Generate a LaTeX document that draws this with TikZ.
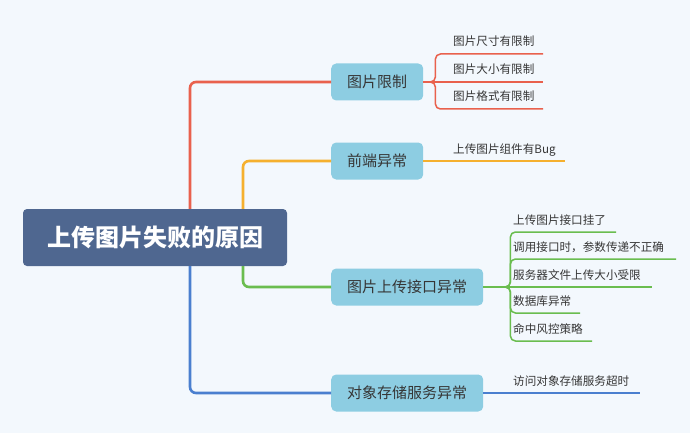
\documentclass[tikz,border=0pt]{standalone}
\usepackage{fontspec}
\usepackage{xcolor}
\usepackage{tikz}
\usetikzlibrary{positioning}
\newfontfamily\cjk{Noto Sans CJK SC}
\definecolor{PaperBlue}{HTML}{F3F8FD}
\definecolor{RootBlue}{HTML}{4F6790}
\definecolor{TopicBlue}{HTML}{8DCDE2}
\definecolor{InkGray}{HTML}{363636}
\definecolor{RedLine}{HTML}{E9614D}
\definecolor{OrangeLine}{HTML}{F5B02E}
\definecolor{GreenLine}{HTML}{6ABD4F}
\definecolor{BlueLine}{HTML}{4A7FCF}

\begin{document}
\begin{tikzpicture}[
  x=1pt, y=-1pt,
  root/.style={fill=RootBlue, rounded corners=4pt, text=white,
    font=\cjk\bfseries\fontsize{24}{24}\selectfont,
    minimum width=264pt, minimum height=57pt, inner sep=0pt},
  topic/.style={fill=TopicBlue, rounded corners=5pt, text=InkGray, anchor=west,
    font=\cjk\fontsize{15}{15}\selectfont, minimum height=37pt, inner xsep=16pt},
  leaf/.style={text=InkGray, anchor=base west, inner sep=0pt,
    font=\cjk\fontsize{11.6}{12}\selectfont},
  branch/.style={line width=2.6pt, rounded corners=6pt},
  twig/.style={line width=1.5pt, rounded corners=5pt}
]
  \fill[PaperBlue] (0,0) rectangle (690,433);
  \useasboundingbox (0,0) rectangle (690,433);

  % centre and main topics
  \node[root] (cause) at (155,237.5) {上传图片失败的原因};
  \node[topic] (limit) at (331,82) {图片限制};
  \node[topic] (front) at (331,161) {前端异常};
  \node[topic] (api) at (331,287) {图片上传接口异常};
  \node[topic] (storage) at (331,393) {对象存储服务异常};

  \draw[branch, RedLine] ([xshift=35pt]cause.north) |- (limit);
  \draw[branch, OrangeLine] ([xshift=88pt]cause.north) |- (front);
  \draw[branch, GreenLine] ([xshift=88pt]cause.south) |- (api);
  \draw[branch, BlueLine] ([xshift=35pt]cause.south) |- (storage);

  % 图片限制
  \coordinate (sizeend) at (543,54);
  \coordinate (volend) at (543,82);
  \coordinate (fmtend) at (543,109);
  \node[leaf] (size) at (453,46) {图片尺寸有限制};
  \node[leaf] (vol) at (453,74) {图片大小有限制};
  \node[leaf] (fmt) at (453,101) {图片格式有限制};
  \draw[twig, RedLine] (limit.east) -- ++(12,0) |- (sizeend);
  \draw[twig, RedLine] (limit.east) -- (volend);
  \draw[twig, RedLine] (limit.east) -- ++(12,0) |- (fmtend);

  % 前端异常
  \coordinate (bugend) at (565,161);
  \node[leaf] (bug) at (453,153) {上传图片组件有Bug};
  \draw[twig, OrangeLine] (front.east) -- (bugend);

  % 图片上传接口异常
  \coordinate (downend) at (616,232);
  \coordinate (paramend) at (676,259);
  \coordinate (sizecapend) at (652,287);
  \coordinate (dbend) at (580,313);
  \coordinate (riskend) at (592,341);
  \node[leaf] (down) at (513,224) {上传图片接口挂了};
  \node[leaf] (param) at (513,251) {调用接口时，参数传递不正确};
  \node[leaf] (sizecap) at (513,279) {服务器文件上传大小受限};
  \node[leaf] (db) at (513,305) {数据库异常};
  \node[leaf] (risk) at (513,333) {命中风控策略};
  \draw[twig, GreenLine] (api.east) -- ++(27,0) |- (downend);
  \draw[twig, GreenLine] (api.east) -- ++(27,0) |- (paramend);
  \draw[twig, GreenLine] (api.east) -- (sizecapend);
  \draw[twig, GreenLine] (api.east) -- ++(27,0) |- (dbend);
  \draw[twig, GreenLine] (api.east) -- ++(27,0) |- (riskend);

  % 对象存储服务异常
  \coordinate (timeoutend) at (640,393);
  \node[leaf] (timeout) at (513,385) {访问对象存储服务超时};
  \draw[twig, BlueLine] (storage.east) -- (timeoutend);
\end{tikzpicture}
\end{document}
